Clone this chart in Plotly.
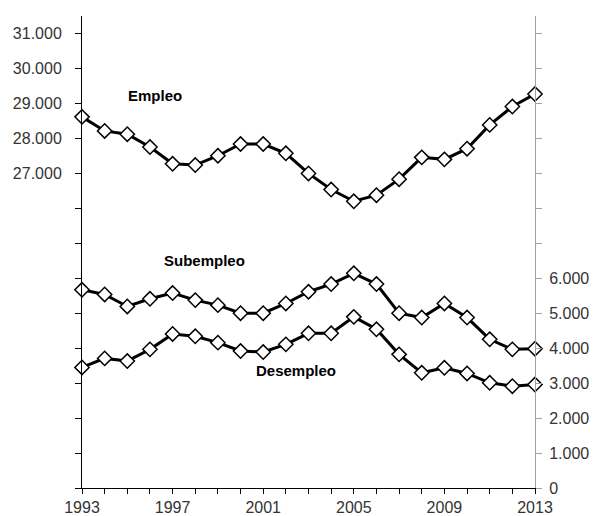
import plotly.graph_objects as go

years = list(range(1993, 2014))
empleo = [28615, 28213, 28118, 27753, 27273, 27236, 27503, 27839, 27839, 27572,
          26997, 26537, 26201, 26374, 26833, 27457, 27400, 27704, 28385, 28910, 29267]
subempleo = [5670, 5536, 5192, 5412, 5575, 5374, 5230, 5000, 5000, 5278,
             5613, 5833, 6140, 5833, 5000, 4875, 5278, 4875, 4253, 3966, 3985]
desempleo = [3448, 3707, 3630, 3966, 4406, 4340, 4157, 3918, 3889, 4109,
             4425, 4425, 4895, 4540, 3822, 3295, 3439, 3276, 3008, 2912, 2960]

left_ticks = list(range(18000, 31001, 1000))
left_text = [f"{v:,}".replace(",", ".") if v >= 27000 else "" for v in left_ticks]
right_ticks = list(range(0, 13001, 1000))
right_text = [(f"{v:,}".replace(",", ".") if v > 0 else "0") if v <= 6000 else "" for v in right_ticks]
x_text = [str(y) if (y - 1993) % 4 == 0 else "" for y in years]

marker = dict(symbol="diamond", size=11, color="white", line=dict(color="black", width=1.5))
line = dict(color="black", width=3)

fig = go.Figure()
fig.add_trace(go.Scatter(x=years, y=empleo, mode="lines+markers", line=line, marker=marker,
                         name="Empleo", yaxis="y", cliponaxis=False))
fig.add_trace(go.Scatter(x=years, y=subempleo, mode="lines+markers", line=line, marker=marker,
                         name="Subempleo", yaxis="y2", cliponaxis=False))
fig.add_trace(go.Scatter(x=years, y=desempleo, mode="lines+markers", line=line, marker=marker,
                         name="Desempleo", yaxis="y2", cliponaxis=False))

tick_font = dict(family="Liberation Sans, Arial", size=16, color="#333333")
lab_font = dict(family="Liberation Sans, Arial", size=15, color="black")

# page body has an 8px margin, so the figure is sized 8px smaller
fig.update_layout(
    width=589, height=508,
    margin=dict(l=74, r=62, t=8, b=28),
    paper_bgcolor="white", plot_bgcolor="white",
    showlegend=False,
    xaxis=dict(range=[1993, 2013], tickvals=years, ticktext=x_text, ticks="outside",
               ticklen=5, tickcolor="black", showline=True, linecolor="black", linewidth=1,
               showgrid=False, zeroline=False, tickfont=tick_font, automargin=False),
    yaxis=dict(range=[18000, 31500], tickvals=left_ticks, ticktext=left_text, ticks="outside",
               ticklen=6, tickcolor="black", showline=True, linecolor="black", linewidth=1,
               showgrid=False, zeroline=False, tickfont=tick_font, ticklabelstandoff=10,
               automargin=False),
    yaxis2=dict(range=[0, 13500], tickvals=right_ticks, ticktext=right_text, ticks="outside",
                ticklen=6, tickcolor="#a0a0a0", showline=True, linecolor="#a0a0a0", linewidth=1,
                showgrid=False, zeroline=False, tickfont=tick_font, overlaying="y", side="right",
                ticklabelstandoff=4, automargin=False),
    annotations=[
        dict(x=1996.22, y=29217, xref="x", yref="y", text="<b>Empleo</b>", showarrow=False, font=lab_font),
        dict(x=1998.39, y=6503, xref="x", yref="y2", text="<b>Subempleo</b>", showarrow=False, font=lab_font),
        dict(x=2002.45, y=3356, xref="x", yref="y2", text="<b>Desempleo</b>", showarrow=False, font=lab_font),
    ],
)

fig.write_html("out.html")
